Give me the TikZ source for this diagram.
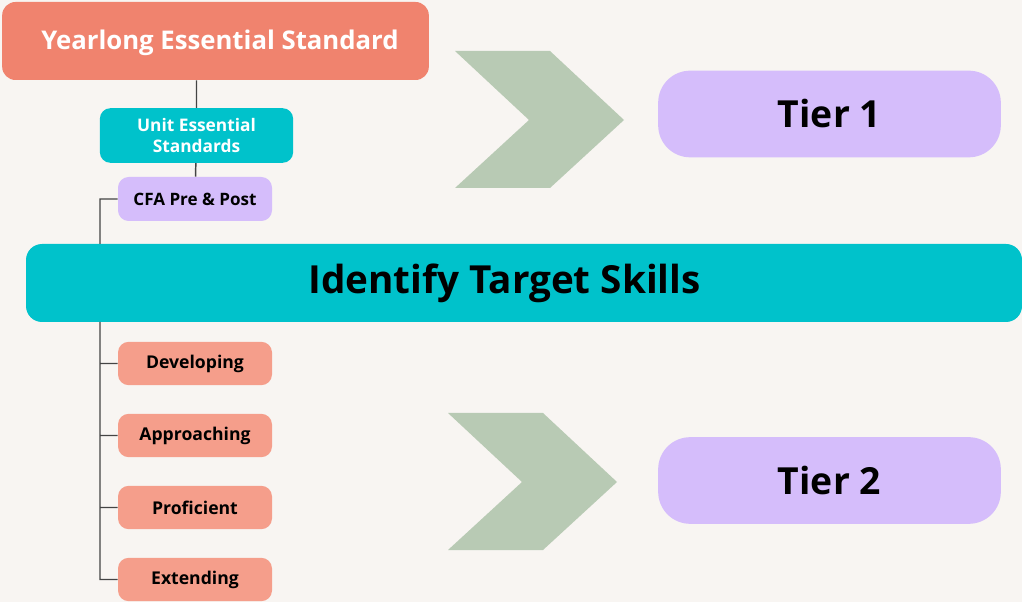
\documentclass[tikz,border=0pt]{standalone}
\usepackage{fontspec}
\setmainfont{Open Sans}
\usetikzlibrary{positioning, calc}
\definecolor{paper}{HTML}{F8F5F2}
\definecolor{salmon}{HTML}{F0836E}
\definecolor{peach}{HTML}{F59E8B}
\definecolor{teal}{HTML}{00C2CB}
\definecolor{lilac}{HTML}{D5BDFB}
\definecolor{sage}{HTML}{B8CAB4}
\definecolor{wire}{HTML}{444444}
\tikzset{
    box/.style={rounded corners=10pt, inner sep=0pt, align=center, font=\bfseries},
    level/.style={box, rounded corners=8pt, fill=peach, minimum width=115.5pt, minimum height=32.5pt, font=\bfseries\fontsize{13.2}{15}\selectfont},
    tier/.style={box, rounded corners=24pt, fill=lilac, minimum width=257pt, minimum height=65pt, font=\bfseries\fontsize{28}{32}\selectfont},
    link/.style={draw=wire, line width=1.1pt}
}
\newcommand{\chevron}[3]{
    \fill[sage] (#2, #3) -- ++(95, 0) -- ++(74, 69) -- ++(-74, 68) -- ++(-95, 0) -- ++(74, -68) -- cycle;
    \coordinate (#1) at ($(#2, #3) + (74, 69)$);
}

\begin{document}
\begin{tikzpicture}[x=0.75pt, y=-0.75pt]
    \fill[paper] (0, 0) rectangle (1022, 602);
    \useasboundingbox (0, 0) rectangle (1022, 602);
    \node[box, fill=salmon, minimum width=320pt, minimum height=58.5pt] (year) at (215.5, 41) {};
    \node[text=white, font=\bfseries\fontsize{19.3}{22}\selectfont] (yeartext) at (220, 42.5) {Yearlong Essential Standard};
    \node[box, rounded corners=8pt, fill=teal, text=white, minimum width=145pt, minimum height=41pt, font=\bfseries\fontsize{13}{16}\selectfont] (unit) at (196.5, 135.5) {Unit Essential\\Standards};
    \node[box, rounded corners=8pt, fill=lilac, minimum width=115.5pt, minimum height=33pt, font=\bfseries\fontsize{12.8}{15}\selectfont] (cfa) at (195, 199) {CFA Pre \& Post};
    \node[box, rounded corners=12pt, fill=teal, minimum width=747pt, minimum height=58.5pt] (bar) at (524, 283) {};
    \node[font=\bfseries\fontsize{29}{33}\selectfont] (skills) at (504.5, 283) {Identify Target Skills};
    \node[level] (dev) at (195, 363.5) {Developing};
    \node[level] (appr) at (195, 435.5) {Approaching};
    \node[level] (prof) at (195, 507.5) {Proficient};
    \node[level] (ext) at (195, 579.5) {Extending};
    \chevron{tipone}{455}{51}
    \chevron{tiptwo}{448}{413}
    \node[tier] (tierone) at (829.5, 114) {Tier 1};
    \node[tier] (tiertwo) at (829.5, 480.5) {Tier 2};
    \coordinate (spinetop) at (100, 244);
    \coordinate (spinebot) at (100, 322);
    \draw[link]
    (year.south -| unit.north) -- (unit.north)
    (unit) -- (cfa)
    (cfa.west) -| (spinetop)
    (spinebot) |- (ext.west)
    (spinebot |- dev.west) -- (dev.west)
    (spinebot |- appr.west) -- (appr.west)
    (spinebot |- prof.west) -- (prof.west);
\end{tikzpicture}
\end{document}
